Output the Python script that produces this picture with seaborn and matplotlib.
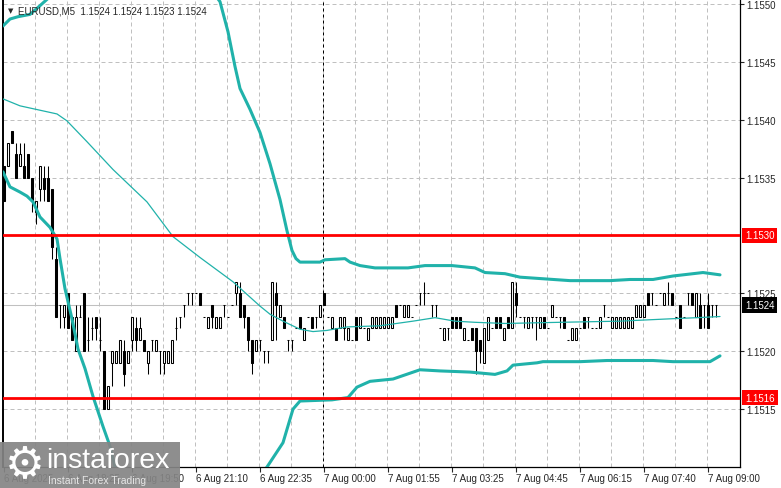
import numpy as np
import matplotlib
matplotlib.use("Agg")
import matplotlib.pyplot as plt
import matplotlib.patches as mpatches
import matplotlib.transforms as mtransforms
import seaborn as sns

# EURUSD M5 candles, values in pips above 1.1500
BASE = 1.1500
PIP = 0.0001

opens = [36, 36, 39, 37, 36, 36, 37, 35, 32, 34,
         35, 35, 34, 28, 24, 23, 25, 23, 20, 23,
         25, 21, 22, 23, 21, 20, 15, 19, 19, 19,
         20, 19, 21, 22, 21, 21, 19, 21, 20, 20,
         19, 19, 19, 22, 23, 24, 25, 25, 25, 25,
         23, 22, 24, 22, 22, 24, 23, 24, 25, 25,
         24, 23, 21, 20, 21, 20, 20, 21, 25, 23,
         23, 21, 21, 22, 23, 21, 23, 23, 23, 23,
         25, 23, 22, 22, 22, 22, 21, 21, 23, 22,
         22, 21, 22, 22, 22, 22, 22, 22, 24, 24,
         23, 23, 23, 24, 25, 25, 25, 24, 24, 22,
         21, 22, 23, 23, 23, 21, 21, 22, 22, 21,
         19, 21, 22, 23, 23, 21, 23, 22, 25, 23,
         23, 22, 23, 23, 22, 23, 22, 23, 23, 23,
         23, 21, 21, 21, 22, 23, 23, 22, 22, 22,
         24, 23, 22, 22, 22, 22, 22, 22, 23, 23,
         23, 25, 25, 24, 25, 24, 25, 25, 23, 24,
         23, 25, 25, 23, 24, 24, 24, 24, 24]
highs = [36, 38, 39, 38, 38, 38, 37, 35, 33, 36,
         36, 36, 34, 29, 24, 24, 25, 23, 24, 24,
         25, 23, 23, 23, 23, 20, 17, 20, 20, 21,
         21, 20, 23, 23, 23, 21, 20, 21, 21, 20,
         20, 20, 21, 23, 23, 24, 25, 25, 25, 25,
         23, 23, 24, 23, 23, 24, 23, 24, 26, 26,
         24, 23, 21, 21, 21, 20, 20, 26, 26, 24,
         23, 21, 21, 22, 23, 22, 23, 23, 23, 24,
         25, 23, 23, 22, 23, 23, 22, 21, 23, 23,
         22, 22, 23, 23, 23, 23, 23, 23, 24, 24,
         24, 24, 23, 24, 25, 26, 25, 24, 24, 22,
         22, 22, 23, 23, 23, 22, 21, 22, 22, 21,
         22, 23, 22, 23, 23, 22, 23, 26, 26, 23,
         23, 23, 23, 23, 23, 23, 22, 24, 23, 23,
         23, 21, 22, 22, 22, 23, 23, 22, 22, 23,
         24, 23, 23, 23, 23, 23, 23, 23, 24, 24,
         24, 25, 25, 24, 25, 25, 26, 25, 23, 24,
         23, 25, 25, 25, 25, 24, 25, 24, 24]
lows = [33, 36, 38, 35, 36, 35, 35, 32, 31, 33,
        33, 33, 28, 23, 22, 22, 22, 21, 20, 23,
        20, 20, 21, 21, 20, 15, 15, 17, 19, 19,
        17, 19, 20, 20, 21, 20, 18, 20, 20, 18,
        18, 19, 19, 21, 22, 23, 24, 24, 25, 24,
        23, 22, 22, 22, 22, 23, 23, 24, 24, 23,
        22, 20, 18, 20, 20, 19, 19, 21, 21, 23,
        22, 20, 20, 22, 22, 21, 23, 22, 22, 23,
        24, 23, 22, 21, 22, 21, 21, 21, 21, 22,
        22, 21, 22, 22, 22, 22, 22, 22, 23, 24,
        23, 23, 23, 24, 24, 24, 25, 23, 23, 22,
        21, 21, 22, 22, 22, 21, 21, 21, 18, 19,
        19, 21, 22, 22, 22, 21, 22, 22, 23, 23,
        22, 22, 22, 21, 22, 22, 22, 23, 23, 22,
        22, 21, 21, 21, 22, 22, 22, 22, 22, 22,
        23, 23, 22, 22, 22, 22, 22, 22, 23, 23,
        23, 24, 24, 24, 25, 24, 24, 24, 23, 22,
        23, 24, 24, 23, 22, 22, 22, 23, 23]
closes = [33, 38, 38, 35, 37, 35, 35, 33, 33, 36,
          34, 33, 29, 23, 24, 24, 22, 21, 23, 23,
          20, 21, 22, 22, 21, 15, 17, 20, 20, 21,
          18, 20, 23, 21, 22, 20, 20, 21, 21, 20,
          20, 20, 21, 22, 23, 24, 25, 25, 25, 24,
          23, 23, 23, 23, 23, 24, 23, 24, 26, 23,
          23, 21, 19, 21, 21, 20, 20, 26, 24, 24,
          22, 21, 21, 22, 22, 22, 23, 22, 23, 24,
          24, 23, 23, 21, 23, 23, 22, 21, 21, 23,
          22, 22, 23, 23, 23, 23, 23, 23, 23, 24,
          24, 24, 23, 24, 25, 25, 25, 24, 24, 22,
          22, 22, 22, 22, 22, 22, 21, 21, 20, 20,
          22, 23, 22, 22, 22, 22, 22, 26, 24, 23,
          23, 23, 23, 23, 23, 22, 22, 24, 23, 23,
          22, 21, 22, 22, 22, 22, 23, 22, 22, 23,
          24, 23, 23, 23, 23, 23, 23, 23, 24, 24,
          24, 24, 25, 24, 25, 25, 25, 24, 23, 22,
          23, 25, 24, 25, 22, 24, 22, 24, 24]

# Bollinger bands and moving average (bar index, pips above 1.1500)
upper_x = [-0.25, 1.5, 3.5, 6.5, 8.5, 10.75, 20, 35, 48, 54, 56, 57.75, 59, 61.5, 64,
           66.5, 69, 70.75, 72, 73, 74, 79, 80.25, 85.25, 86.5, 89, 92.75, 101, 105.25,
           112, 117.75, 120.25, 125.25, 129, 141.5, 151.5, 156.5, 162.25, 167.25,
           174.75, 179]
upper_y = [48.1, 48.7, 48.9, 49.1, 49.7, 50.4, 53.5, 55.0, 53.0, 50.2, 47.6, 44.6, 42.7,
           40.9, 38.9, 36.2, 33.1, 30.4, 28.7, 28.0, 27.7, 27.7, 27.9, 28.0, 27.7, 27.4,
           27.2, 27.2, 27.4, 27.4, 27.2, 26.8, 26.7, 26.4, 26.1, 26.1, 26.2, 26.2, 26.5,
           26.8, 26.6]
lower_x = [-0.25, 1.5, 4, 5.75, 7.25, 9, 11.5, 13.25, 14, 15.25, 17, 18.5, 20.25, 22.25,
           24.75, 26.5, 27.75, 34, 46, 58, 65.75, 69.75, 72.25, 74, 82, 84, 86, 88.25,
           91.5, 97.25, 104, 109, 116.5, 122.75, 125.75, 127.25, 133.25, 134.75, 144,
           150.75, 162.25, 167.25, 173.25, 176.5, 179]
lower_y = [35.5, 34.2, 33.75, 33.4, 32.9, 31.6, 30.7, 29.7, 28.0, 25.4, 22.8, 20.2, 18.5,
           16.1, 13.5, 11.8, 10.0, 6.5, 5.0, 7.0, 10.0, 12.1, 15.0, 15.7, 15.8, 15.9,
           16.0, 16.9, 17.4, 17.6, 18.4, 18.3, 18.2, 18.0, 18.3, 18.8, 19.0, 19.1, 19.1,
           19.2, 19.2, 19.1, 19.1, 19.1, 19.6]
ma_x = [-0.25, 4, 13.25, 15.75, 20.75, 27.25, 35.75, 42.25, 49, 57.25, 64, 66.5, 69.75,
        74, 77.25, 80.75, 85.75, 94, 102.25, 107.75, 112.75, 117.75, 125.25, 139, 154,
        166.5, 173.25, 179]
ma_y = [41.8, 41.2, 40.5, 39.9, 38.1, 35.7, 32.9, 29.9, 28.1, 26.0, 23.9, 23.2, 22.6,
        21.9, 21.7, 21.8, 22.1, 22.2, 22.6, 22.9, 22.6, 22.5, 22.4, 22.5, 22.6, 22.8,
        22.9, 23.0]

level_lines = [1.1530, 1.1516]
bid = 1.1524
price_ticks = [1.1515, 1.1520, 1.1525, 1.1535, 1.1540, 1.1545, 1.1550]
time_ticks = [0, 16, 32, 48, 64, 80, 96, 112, 128, 144, 160, 176]
time_labels = ["6 Aug 2025", "6 Aug 18:25", "6 Aug 19:50", "6 Aug 21:10",
               "6 Aug 22:35", "7 Aug 00:00", "7 Aug 01:55", "7 Aug 03:25",
               "7 Aug 04:45", "7 Aug 06:15", "7 Aug 07:40", "7 Aug 09:00"]
title = "EURUSD,M5  1.1524 1.1524 1.1523 1.1524"

sns.set_style("white")
plt.rcParams['font.family'] = ['Liberation Sans', 'DejaVu Sans']

W, H = 781, 489
fig = plt.figure(figsize=(W / 100, H / 100), dpi=100)
ax = fig.add_axes([3 / W, 21 / H, 737 / W, 468 / H])
ax.set_xlim(-0.25, 184)
ax.set_ylim(1.15100, 1.155043)

# grid
grid_kw = dict(color='#c0c0c0', lw=0.72, ls=(0, (4, 3)), zorder=1)
for p in np.arange(1.1515, 1.15505, 0.0005):
    ax.axhline(p, **grid_kw)
for g in np.arange(7.75, 180, 8):
    ax.axvline(g, **grid_kw)
ax.axvline(79.75, color='black', lw=0.72, ls=(0, (3, 3)), zorder=1)
ax.axhline(bid, color='#c0c0c0', lw=0.75, zorder=1)

# candles
o = BASE + np.array(opens) * PIP
h = BASE + np.array(highs) * PIP
l = BASE + np.array(lows) * PIP
c = BASE + np.array(closes) * PIP
idx = np.arange(len(o))
up = c > o
dn = c < o
fl = c == o
ax.vlines(idx, l, h, color='black', lw=0.75, zorder=2)
ax.bar(idx[up], (c - o)[up], bottom=o[up], width=0.5, color='white',
       edgecolor='black', linewidth=0.75, zorder=3)
ax.bar(idx[dn], (o - c)[dn], bottom=c[dn], width=0.5, color='black',
       edgecolor='black', linewidth=0.75, zorder=3)
ax.hlines(o[fl], idx[fl] - 0.35, idx[fl] + 0.35, color='black', lw=0.75, zorder=3)

# indicators
teal = '#20b2aa'
sns.lineplot(x=upper_x, y=BASE + np.array(upper_y) * PIP, ax=ax, color=teal,
             lw=2.2, estimator=None, zorder=4)
sns.lineplot(x=lower_x, y=BASE + np.array(lower_y) * PIP, ax=ax, color=teal,
             lw=2.2, estimator=None, zorder=4)
sns.lineplot(x=ma_x, y=BASE + np.array(ma_y) * PIP, ax=ax, color=teal,
             lw=0.9, estimator=None, zorder=4)

for lv in level_lines:
    ax.axhline(lv, color='#ff0000', lw=2.0, zorder=5)

# axes
ax.spines['top'].set_visible(False)
for side in ['left', 'right', 'bottom']:
    ax.spines[side].set_color('black')
ax.spines['left'].set_linewidth(1.4)
ax.spines['right'].set_linewidth(0.9)
ax.spines['bottom'].set_linewidth(0.9)
ax.yaxis.tick_right()
ax.set_yticks(price_ticks)
ax.set_yticklabels([f"{p:.4f}" for p in price_ticks])
ax.tick_params(axis='y', length=3, width=0.8, pad=1.5, labelsize=7, right=True, left=False)
ax.set_xticks(time_ticks)
ax.set_xticklabels(time_labels, ha='left')
ax.tick_params(axis='x', length=3.5, width=0.8, pad=0.5, labelsize=7, bottom=True)
ax.set_xlabel('')
ax.set_ylabel('')

trans = mtransforms.blended_transform_factory(ax.transAxes, ax.transData)
for lv, col in [(1.1530, '#ff0000'), (bid, 'black'), (1.1516, '#ff0000')]:
    ax.text(1 + 5 / 737, lv, f"{lv:.4f}", transform=trans, va='center', ha='left',
            color='white', fontsize=7, clip_on=False,
            bbox=dict(boxstyle='square,pad=0.3', fc=col, ec='none'))

fig.text(8 / W, 1 - 11 / H, "\u25bc", fontsize=5, va='center', ha='left',
         family='DejaVu Sans')
fig.text(18 / W, 1 - 11 / H, title, fontsize=7, va='center', ha='left')

# watermark
fig.patches.append(mpatches.Rectangle((0, 0), 180 / W, 46 / H, transform=fig.transFigure,
                                      fc='#858585', ec='none', alpha=0.92, zorder=10))
fig.text(25 / W, 1 - 465 / H, "\u2699", fontsize=32, color='white', va='center',
         ha='center', family='DejaVu Sans', zorder=11)
fig.text(46 / W, 1 - 461 / H, "instaforex", fontsize=20.5, color='white', va='center',
         ha='left', zorder=11)
fig.text(48 / W, 1 - 481 / H, "Instant Forex Trading", fontsize=7.5, color='#e6e6e6',
         va='center', ha='left', zorder=11)

fig.savefig("out.png", dpi=100)
